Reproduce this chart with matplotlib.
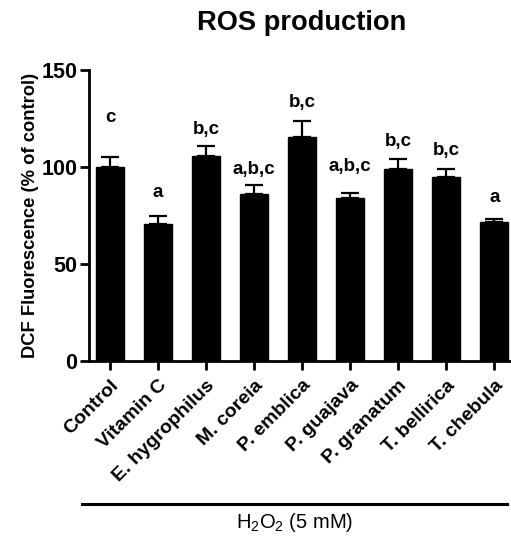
import numpy as np
import matplotlib
matplotlib.use("Agg")
import matplotlib.pyplot as plt
from matplotlib.lines import Line2D

plt.rcParams['font.family'] = ['Liberation Sans', 'DejaVu Sans']
plt.rcParams['mathtext.fontset'] = 'custom'
plt.rcParams['mathtext.rm'] = 'Liberation Sans'

# data
groups = ['Control', 'Vitamin C', 'E. hygrophilus', 'M. coreia', 'P. emblica',
          'P. guajava', 'P. granatum', 'T. bellirica', 'T. chebula']
means = [100.0, 70.6, 105.8, 86.2, 115.6, 84.2, 99.1, 94.8, 71.5]
sem = [5.4, 4.3, 5.2, 4.3, 8.1, 2.4, 5.2, 4.0, 1.7]
sig_letters = ['c', 'a', 'b,c', 'a,b,c', 'b,c', 'a,b,c', 'b,c', 'b,c', 'a']
letter_y = [123, 84.6, 117, 96.4, 131, 98.1, 111, 106, 82]

fig = plt.figure(figsize=(5.11, 5.39), dpi=100)
ax = fig.add_axes([89 / 511, 178 / 539, 422 / 511, 291 / 539])

x = np.arange(len(groups))
ax.bar(x, means, width=0.58, color='black', edgecolor='black', zorder=2)
ax.errorbar(x, means, yerr=[np.zeros(len(sem)), sem], fmt='none', ecolor='black',
            elinewidth=1.6, capsize=6.5, capthick=1.6, zorder=3)

for xi, lab, ly in zip(x, sig_letters, letter_y):
    ax.text(xi, ly, lab, ha='center', va='baseline', fontsize=13.5, fontweight='bold')

ax.set_xlim(-0.44, 8.35)
ax.set_ylim(0, 150)
ax.set_yticks([0, 50, 100, 150])
ax.set_xticks(x)
ax.set_xticklabels(groups, rotation=45, ha='right', rotation_mode='anchor',
                   fontsize=14, fontweight='bold')
for tl in ax.get_yticklabels():
    tl.set_fontweight('bold')
    tl.set_fontsize(15.5)

for s in ['top', 'right']:
    ax.spines[s].set_visible(False)
for s in ['left', 'bottom']:
    ax.spines[s].set_linewidth(2)
ax.tick_params(axis='both', width=2, length=6.5, direction='out')
ax.tick_params(axis='x', pad=5)
ax.tick_params(axis='y', pad=2)

ax.set_ylabel('DCF Fluorescence (% of control)', fontsize=13.2, fontweight='bold')
ax.yaxis.set_label_coords(-0.118, 0.5)
fig.text(302 / 511, 1 - 23 / 539, 'ROS production', ha='center', va='center',
         fontsize=19.6, fontweight='bold')

fig.add_artist(Line2D([82 / 511, 507 / 511], [0.065, 0.065], color='black', lw=2.2))
fig.text(295 / 511, 1 - 523 / 539, r'H$_2$O$_2$ (5 mM)', ha='center', va='center', fontsize=14.5)

fig.savefig('out.png', dpi=100)
